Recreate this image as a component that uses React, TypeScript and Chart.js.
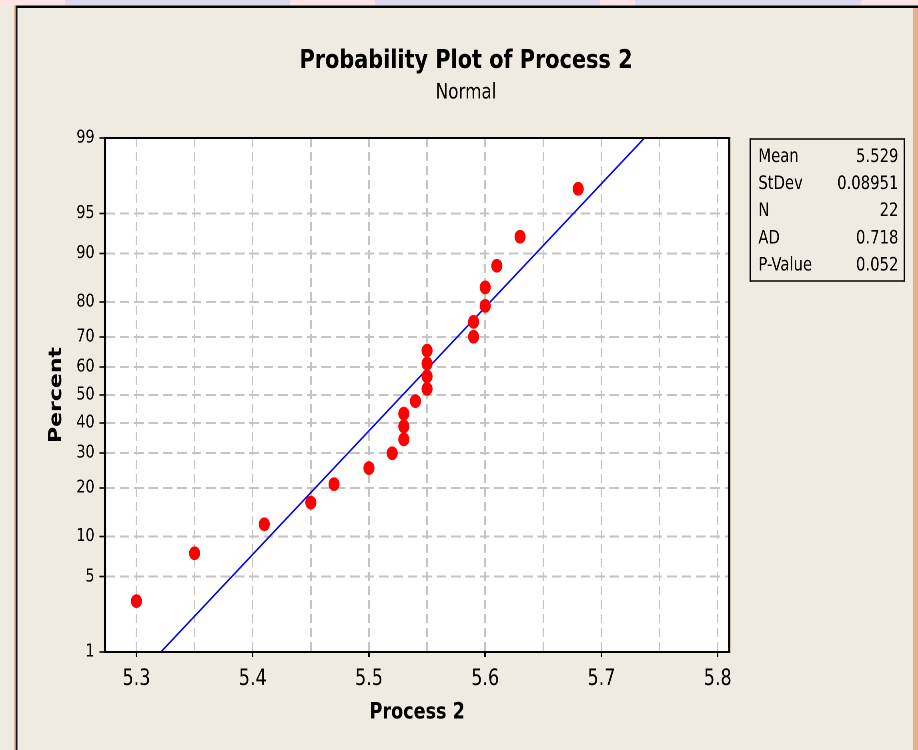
import React, { useEffect, useRef } from "react";
import { Chart, registerables } from "chart.js";

Chart.register(...registerables);

// ---------------- data ----------------
const processValues = [
  5.30, 5.35, 5.41, 5.45, 5.47, 5.50, 5.52, 5.53, 5.53, 5.53, 5.54,
  5.55, 5.55, 5.55, 5.55, 5.59, 5.59, 5.60, 5.60, 5.61, 5.63, 5.68,
];
const percentValues = [
  3.1, 7.6, 12.1, 16.5, 21.0, 25.4, 29.9, 34.4, 38.8, 43.3, 47.8,
  52.2, 56.7, 61.2, 65.6, 70.1, 74.6, 79.0, 83.5, 87.9, 92.4, 96.9,
];
// fitted normal line end points (Process 2 value at 1% and 99%)
const fitLineX = [5.321, 5.737];
const fitLinePercent = [1, 99];

const percentTicks = [1, 5, 10, 20, 30, 40, 50, 60, 70, 80, 90, 95, 99];
const xGridValues = [5.3, 5.35, 5.4, 5.45, 5.5, 5.55, 5.6, 5.65, 5.7, 5.75, 5.8];
const xTickLabels = [5.3, 5.4, 5.5, 5.6, 5.7, 5.8];

const statLabels = ["Mean", "StDev", "N", "AD", "P-Value"];
const statValues = ["5.529", "0.08951", "22", "0.718", "0.052"];

const titleText = "Probability Plot of Process 2";
const subtitleText = "Normal";
const xTitle = "Process 2";
const yTitle = "Percent";

// ---------------- look ----------------
const SX = 0.8; // the reference is horizontally squeezed
const VW = 918 / SX;
const FONT = "'DejaVu Sans', 'Noto Sans', sans-serif";
const BG = "#EFEBE0";
const GRID = "#C4C4C4";

// inverse of the standard normal CDF (probability-scale transform)
function probit(p: number): number {
  const a = [-3.969683028665376e1, 2.209460984245205e2, -2.759285104469687e2, 1.38357751867269e2, -3.066479806614716e1, 2.506628277459239];
  const b = [-5.447609879822406e1, 1.615858368580409e2, -1.556989798598866e2, 6.680131188771972e1, -1.328068155288572e1];
  const c = [-7.784894002430293e-3, -3.223964580411365e-1, -2.400758277161838, -2.549732539343734, 4.374664141464968, 2.938163982698783];
  const d = [7.784695709041462e-3, 3.224671290700398e-1, 2.445134137142996, 3.754408661907416];
  const pl = 0.02425;
  if (p < pl) {
    const q = Math.sqrt(-2 * Math.log(p));
    return (((((c[0] * q + c[1]) * q + c[2]) * q + c[3]) * q + c[4]) * q + c[5]) / ((((d[0] * q + d[1]) * q + d[2]) * q + d[3]) * q + 1);
  }
  if (p <= 1 - pl) {
    const q = p - 0.5;
    const r = q * q;
    return ((((((a[0] * r + a[1]) * r + a[2]) * r + a[3]) * r + a[4]) * r + a[5]) * q) / (((((b[0] * r + b[1]) * r + b[2]) * r + b[3]) * r + b[4]) * r + 1);
  }
  const q = Math.sqrt(-2 * Math.log(1 - p));
  return -(((((c[0] * q + c[1]) * q + c[2]) * q + c[3]) * q + c[4]) * q + c[5]) / ((((d[0] * q + d[1]) * q + d[2]) * q + d[3]) * q + 1);
}

const isMajorX = (v: number) => xTickLabels.some((t) => Math.abs(t - v) < 1e-6);

const decorPlugin = {
  id: "decor",
  beforeDraw(chart: any) {
    const { ctx, width, height, chartArea: a } = chart;
    ctx.save();
    ctx.fillStyle = BG;
    ctx.fillRect(0, 0, width, height);
    // slide strip at the very top
    ctx.fillStyle = "#FCE4E4";
    ctx.fillRect(0, 0, width, 6);
    ctx.fillStyle = "#DCDAEC";
    const blocks = [[65, 290], [375, 600], [635, 861]];
    for (const [x0, x1] of blocks) ctx.fillRect(x0 / SX, 0, (x1 - x0) / SX, 6);
    // window frame
    ctx.fillStyle = "#000";
    ctx.fillRect(19, 5.5, width - 19, 2.5);
    ctx.fillStyle = "#D9A58A";
    ctx.fillRect(17.9, 5.5, 1.8, height);
    ctx.fillStyle = "#111";
    ctx.fillRect(19.6, 5.5, 2.2, height);
    ctx.fillStyle = "#B8B4AC";
    ctx.fillRect(1141, 8, 1.6, height);
    ctx.fillStyle = "#F4AA80";
    ctx.fillRect(1142.6, 8, width - 1142.6, height);
    // plot background
    ctx.fillStyle = "#FFFFFF";
    ctx.fillRect(a.left, a.top, a.right - a.left, a.bottom - a.top);
    ctx.restore();
  },
  afterDraw(chart: any) {
    const { ctx, chartArea: a } = chart;
    ctx.save();
    // plot frame
    ctx.fillStyle = "#000";
    ctx.fillRect(a.left - 1.3, a.top - 1, a.right - a.left + 2.6, 2);
    ctx.fillRect(a.left - 1.3, a.bottom - 1, a.right - a.left + 2.6, 2);
    ctx.fillRect(a.left - 1.3, a.top - 1, 2.6, a.bottom - a.top + 2);
    ctx.fillRect(a.right - 1.3, a.top - 1, 2.6, a.bottom - a.top + 2);
    // statistics box
    const bx0 = 750 / SX, bx1 = 904 / SX, by0 = 139, by1 = 281;
    ctx.fillRect(bx0 - 1, by0 - 0.75, bx1 - bx0 + 2, 1.5);
    ctx.fillRect(bx0 - 1, by1 - 0.75, bx1 - bx0 + 2, 1.5);
    ctx.fillRect(bx0 - 1, by0 - 0.75, 2, by1 - by0 + 1.5);
    ctx.fillRect(bx1 - 1, by0 - 0.75, 2, by1 - by0 + 1.5);
    ctx.font = `18.5px ${FONT}`;
    ctx.textBaseline = "middle";
    statLabels.forEach((lab, i) => {
      const y = 157 + i * 27.2;
      ctx.textAlign = "left";
      ctx.fillText(lab, 758 / SX, y);
      ctx.textAlign = "right";
      ctx.fillText(statValues[i], 898 / SX, y);
    });
    ctx.restore();
  },
};

export default function App() {
  const ref = useRef<HTMLCanvasElement>(null);

  useEffect(() => {
    document.body.style.margin = "0";
    const yMin = probit(percentTicks[0] / 100);
    const yMax = probit(percentTicks[percentTicks.length - 1] / 100);

    const chart = new Chart(ref.current as HTMLCanvasElement, {
      type: "scatter",
      data: {
        datasets: [
          {
            label: "Process 2",
            data: processValues.map((v, i) => ({ x: v, y: probit(percentValues[i] / 100) })),
            backgroundColor: "#FF0000",
            borderColor: "#FF0000",
            pointRadius: 6.9,
            pointBorderWidth: 0,
            yAxisID: "y",
            order: 0,
          },
          {
            label: "Fit",
            data: fitLineX.map((v, i) => ({ x: v, y: probit(fitLinePercent[i] / 100) })),
            showLine: true,
            borderColor: "#0000FF",
            borderWidth: 1.8,
            pointRadius: 0,
            yAxisID: "y",
            order: 1,
          },
        ],
      },
      options: {
        responsive: true,
        maintainAspectRatio: false,
        animation: false,
        devicePixelRatio: 2,
        events: [],
        layout: { padding: { left: 17, right: 0, top: 0, bottom: 0 } },
        plugins: {
          legend: { display: false },
          tooltip: { enabled: false },
          title: {
            display: true,
            text: titleText,
            color: "#000",
            font: { family: FONT, size: 26, weight: "bold" },
            padding: { top: 45.4, bottom: 0 },
          },
          subtitle: {
            display: true,
            text: subtitleText,
            color: "#000",
            font: { family: FONT, size: 21, weight: "normal" },
            padding: { top: 3.8, bottom: 32.4 },
          },
        },
        scales: {
          x: {
            type: "linear",
            position: "bottom",
            min: 5.273,
            max: 5.81,
            afterBuildTicks: (s: any) => {
              s.ticks = xGridValues.map((v) => ({ value: v }));
            },
            afterFit: (s: any) => {
              s.height = 98;
            },
            ticks: {
              autoSkip: false,
              maxRotation: 0,
              color: "#000",
              padding: 9,
              font: { family: FONT, size: 22 },
              callback: (v: any) => (isMajorX(Number(v)) ? Number(v).toFixed(1) : ""),
            },
            grid: {
              color: GRID,
              lineWidth: 2,
              drawTicks: true,
              tickLength: 5,
              tickWidth: 2,
              tickColor: (ctx: any) => (ctx.tick && isMajorX(ctx.tick.value) ? "#000" : "rgba(0,0,0,0)"),
            },
            border: { display: false, dash: [9, 5] },
            title: {
              display: true,
              text: xTitle,
              color: "#000",
              font: { family: FONT, size: 22, weight: "bold" },
              padding: { top: 0, bottom: 24 },
            },
          },
          y: {
            type: "linear",
            position: "left",
            min: yMin,
            max: yMax,
            afterBuildTicks: (s: any) => {
              s.ticks = percentTicks.map((p) => ({ value: probit(p / 100) }));
            },
            afterFit: (s: any) => {
              s.width = 131.25 - 17;
            },
            ticks: {
              autoSkip: false,
              color: "#000",
              padding: 6,
              font: { family: FONT, size: 18 },
              callback: (_v: any, i: number) => String(percentTicks[i]),
            },
            grid: {
              color: GRID,
              lineWidth: 2,
              drawTicks: true,
              tickLength: 7,
              tickWidth: 1.6,
              tickColor: "#000",
            },
            border: { display: false, dash: [12, 6] },
            title: {
              display: true,
              text: yTitle,
              color: "#000",
              font: { family: FONT, size: 22, weight: "bold" },
              padding: { top: 40.8, bottom: 0 },
            },
          },
          yRight: {
            type: "linear",
            position: "right",
            display: true,
            grid: { display: false },
            ticks: { display: false },
            border: { display: false },
            afterFit: (s: any) => {
              s.width = VW - 911.25;
            },
          },
        },
      },
      plugins: [decorPlugin],
    } as any);

    return () => chart.destroy();
  }, []);

  return (
    <div style={{ position: "absolute", left: 0, top: 0, width: 918, height: 750, overflow: "hidden", background: BG }}>
      <div style={{ width: VW, height: 750, transform: `scaleX(${SX})`, transformOrigin: "0 0" }}>
        <canvas ref={ref} />
      </div>
    </div>
  );
}
